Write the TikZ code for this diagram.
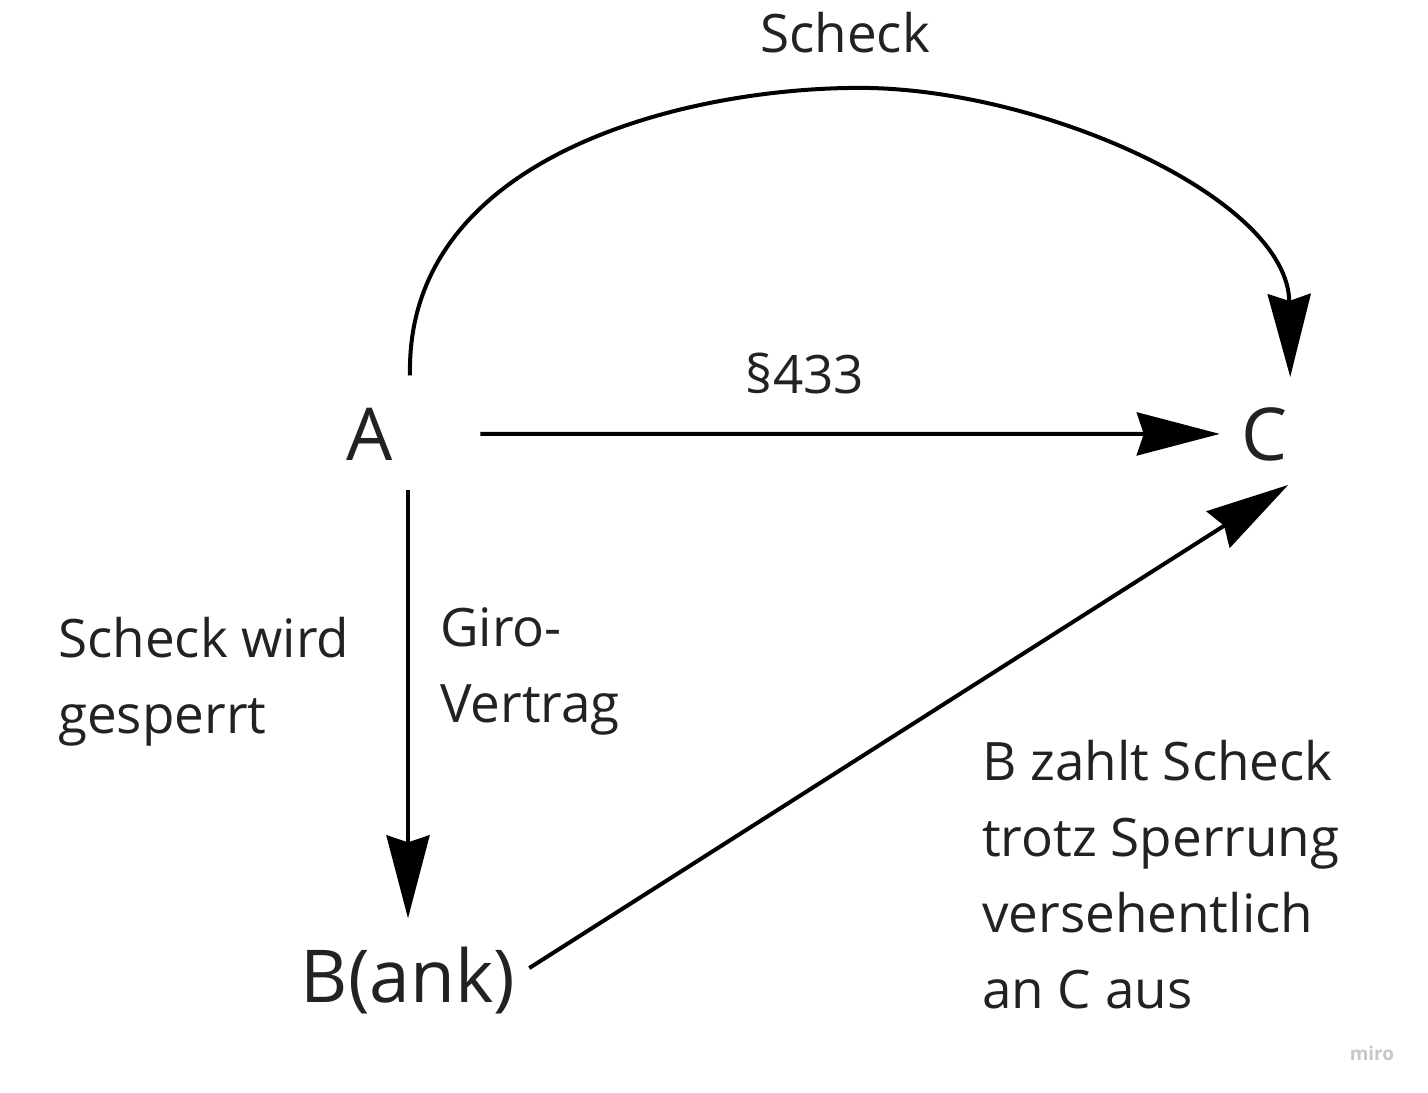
\documentclass[tikz,border=0pt]{standalone}
\usepackage{fontspec}
\setmainfont{Open Sans}
\usetikzlibrary{positioning,arrows.meta,calc}
\definecolor{ink}{HTML}{222222}
\definecolor{wmark}{HTML}{C6C6CC}
\tikzset{
  arr/.style={-{Stealth[length=83pt,width=43pt,inset=7pt]}, line width=4pt, color=black},
  big/.style={font=\fontsize{73pt}{80pt}\selectfont, text=ink, inner sep=0pt},
  lab/.style={font=\fontsize{53pt}{76pt}\selectfont, text=ink, align=left, inner sep=0pt},
}
\begin{document}
\begin{tikzpicture}[x=1pt, y=-1pt]
  \useasboundingbox (0,0) rectangle (1428,1093);
  \node[big, anchor=base] (A) at (370,460) {A};
  \node[big, anchor=base] (C) at (1265,460) {C};
  \node[big, anchor=base] (B) at (408,1002) {B(ank)};
  % Enden der Pfeile
  \coordinate (a-top) at ($(A.north)+(40,-32)$);
  \coordinate (a-bot) at ($(A.south -| B.north)+(0,30)$);
  \coordinate (c-top) at ($(C.north east)+(2,-30)$);
  \coordinate (c-bot) at ($(C.south east)+(0,24)$);
  \draw[arr] (a-top) .. controls (405,150) and (700,85) .. (870,88)
    .. controls (1050,92) and (1288,200) .. (c-top);
  \draw[arr] ($(A.east)+(87,0)$) -- ($(C.west)+(-22,0)$);
  \draw[arr] (a-bot) -- ($(B.north)+(0,-28)$);
  \draw[arr] ($(B.east)+(14,-12)$) -- (c-bot);
  % Beschriftungen
  \node[lab, anchor=base] (scheck) at (845,52) {Scheck};
  \node[lab, anchor=base] (p433) at (805,393) {§433};
  \node[lab, anchor=base west] (sperr) at (58,733) {Scheck wird\\gesperrt};
  \node[lab, anchor=base west] (giro) at (440,722) {Giro-\\Vertrag};
  \node[lab, anchor=base west] (zahlt) at (982,1008) {B zahlt Scheck\\trotz Sperrung\\versehentlich\\an C aus};
  \node[font=\fontsize{19pt}{22pt}\selectfont\bfseries, text=wmark, anchor=base] (miro) at (1372,1060) {miro};
\end{tikzpicture}
\end{document}
